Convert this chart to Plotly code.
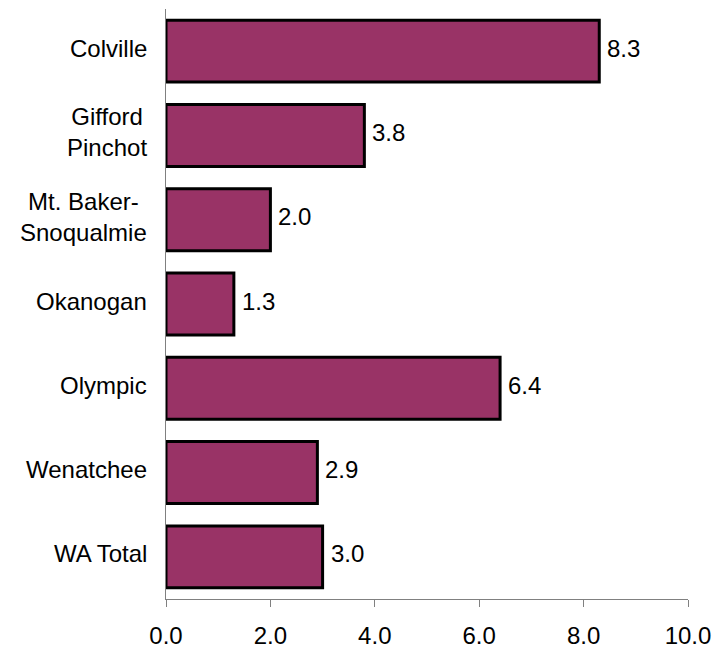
import plotly.graph_objects as go

categories = ["Colville", "Gifford<br>Pinchot", "Mt. Baker-<br>Snoqualmie", "Okanogan", "Olympic", "Wenatchee", "WA Total"]
values = [8.3, 3.8, 2.0, 1.3, 6.4, 2.9, 3.0]
x_ticks = [0, 2, 4, 6, 8, 10]
x_tick_labels = ["0.0", "2.0", "4.0", "6.0", "8.0", "10.0"]

FONT = "Liberation Sans, Arial, sans-serif"

fig = go.Figure(go.Bar(
    x=values, y=categories, orientation="h",
    marker=dict(color="#993366", line=dict(color="black", width=3)),
    hoverinfo="skip",
))

for c, v in zip(categories, values):
    # value label
    fig.add_annotation(x=v, y=c, text=f"{v:.1f}", showarrow=False,
                       xanchor="left", xshift=6, yshift=3,
                       font=dict(family=FONT, size=24, color="black"))
    # category label (centered multi-line, like the original)
    fig.add_annotation(x=0, xref="paper", y=c, text=c, showarrow=False,
                       xanchor="right", xshift=-17, yshift=3, align="center",
                       font=dict(family=FONT, size=24, color="black"))

fig.update_layout(
    width=725, height=648,
    margin=dict(l=166, r=37, t=9, b=49, autoexpand=False),
    plot_bgcolor="white", paper_bgcolor="white",
    bargap=0.265, showlegend=False,
    font=dict(family=FONT, size=24, color="black"),
)
fig.update_xaxes(range=[0, 10], tickvals=x_ticks, ticktext=x_tick_labels, automargin=False,
                 showgrid=False, zeroline=False, showline=True, linecolor="#808080", linewidth=1,
                 ticks="outside", ticklen=7, tickcolor="#808080", ticklabelstandoff=8)
fig.update_yaxes(autorange="reversed", showgrid=False, zeroline=False, showline=True,
                 automargin=False, linecolor="#808080", linewidth=1, ticks="",
                 showticklabels=False)

fig.write_html("out.html")
